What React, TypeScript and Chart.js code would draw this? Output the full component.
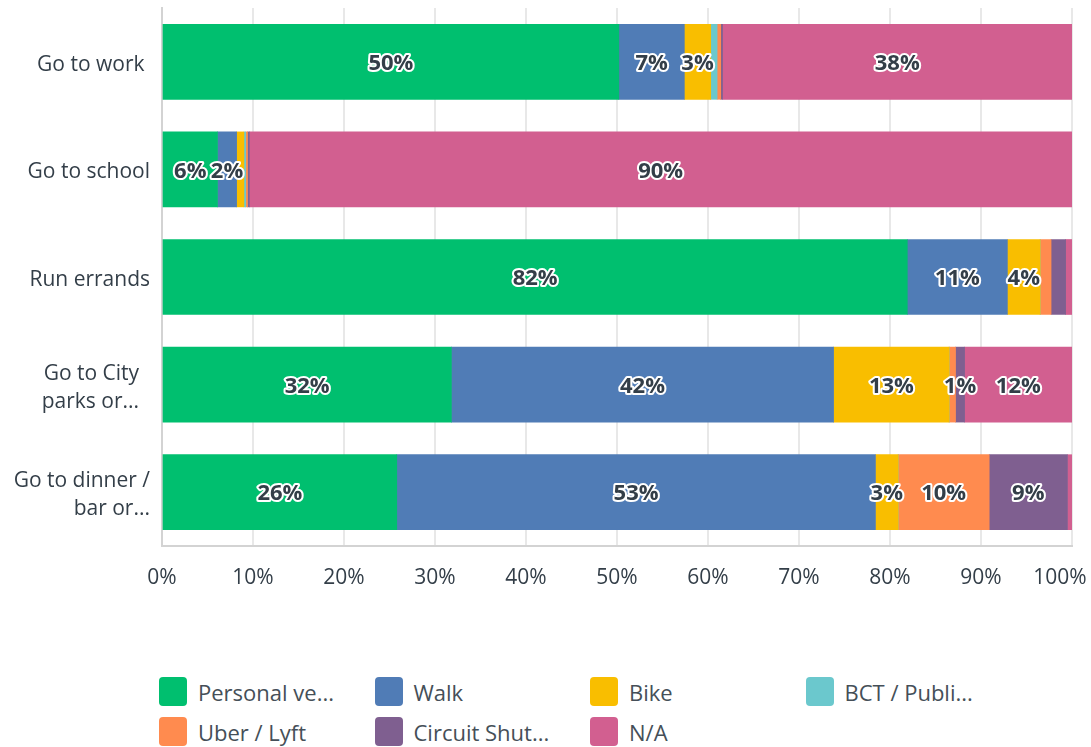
import React, { useEffect, useRef } from "react";
import { Chart, registerables } from "chart.js";

Chart.register(...registerables);

const categories: string[][] = [
  ["Go to work "],
  ["Go to school"],
  ["Run errands"],
  ["Go to City  ", "parks or...  "],
  ["Go to dinner /", "bar or..."],
];

const seriesNames = ["Personal ve...", "Walk", "Bike", "BCT / Publi...", "Uber / Lyft", "Circuit Shut...", "N/A"];
const personal = [50.2, 6.1, 81.9, 31.8, 25.8];
const walk = [7.2, 2.1, 11.0, 42.0, 52.6];
const bike = [2.9, 0.8, 3.6, 12.7, 2.5];
const bct = [0.7, 0.2, 0, 0, 0];
const uber = [0.4, 0.2, 1.2, 0.7, 10.0];
const circuit = [0.2, 0.2, 1.6, 1.0, 8.6];
const na = [38.4, 90.4, 0.7, 11.8, 0.5];
const xTicks = [0, 10, 20, 30, 40, 50, 60, 70, 80, 90, 100];

// small segments that still carry a label in the reference: [row, series]
const extraLabels: number[][] = [[3, 5]];

const colors = ["#00BF6F", "#507CB6", "#F9BE00", "#6BC8CD", "#FF8B4F", "#7F5F90", "#D25F90"];
const seriesValues = [personal, walk, bike, bct, uber, circuit, na];

const FONT = "'Open Sans', 'DejaVu Sans', sans-serif";
const TEXT = "#333E48";

const labelPlugin = {
  id: "segLabels",
  afterDatasetsDraw(chart: any) {
    const ctx = chart.ctx;
    ctx.save();
    ctx.font = `bold 22px ${FONT}`;
    ctx.textAlign = "center";
    ctx.textBaseline = "middle";
    ctx.lineJoin = "round";
    chart.data.datasets.forEach((ds: any, di: number) => {
      const meta = chart.getDatasetMeta(di);
      meta.data.forEach((el: any, i: number) => {
        const v = ds.data[i] as number;
        const forced = extraLabels.some((p) => p[0] === i && p[1] === di);
        if (!(v >= 2 || forced)) return;
        const x = (el.x + el.base) / 2;
        const y = el.y + 2;
        const t = Math.round(v) + "%";
        ctx.lineWidth = 4;
        ctx.strokeStyle = "#ffffff";
        ctx.strokeText(t, x, y);
        ctx.fillStyle = TEXT;
        ctx.fillText(t, x, y);
      });
    });
    ctx.restore();
  },
};

export default function App() {
  const ref = useRef<HTMLCanvasElement>(null);
  useEffect(() => {
    if (!ref.current) return;
    const chart = new Chart(ref.current, {
      type: "bar",
      data: {
        labels: categories,
        datasets: seriesNames.map((n, i) => ({
          label: n,
          data: seriesValues[i],
          backgroundColor: colors[i],
          borderWidth: 0,
          barThickness: 75,
        })),
      },
      options: {
        indexAxis: "y",
        animation: false,
        responsive: false,
        maintainAspectRatio: false,
        layout: { padding: { left: 0, right: 19, top: 8, bottom: 0 } },
        plugins: { legend: { display: false }, tooltip: { enabled: false } },
        scales: {
          x: {
            stacked: true,
            min: 0,
            max: 100,
            afterBuildTicks: (s: any) => {
              s.ticks = xTicks.map((v) => ({ value: v }));
            },
            afterFit: (s: any) => {
              s.height = 64;
              s.paddingLeft = 0;
              s.paddingRight = 0;
            },
            ticks: {
              callback: (v: any) => (v === 100 ? v + "%\u2007\u2007" : v + "%"),
              font: { family: FONT, size: 21 },
              color: TEXT,
              padding: 19,
              maxRotation: 0,
            },
            grid: { color: "#E8E8E8", lineWidth: 2, drawTicks: false },
            border: { color: "#D3D3D3", width: 2 },
          },
          y: {
            stacked: true,
            afterFit: (s: any) => {
              s.width = 162;
              s.paddingTop = 0;
              s.paddingBottom = 0;
            },
            ticks: {
              font: { family: FONT, size: 21, lineHeight: 1.33 },
              color: TEXT,
              padding: 12,
              labelOffset: 3,
            },
            grid: { display: false, drawTicks: false },
            border: { color: "#D3D3D3", width: 2 },
          },
        },
      } as any,
      plugins: [labelPlugin],
    });
    return () => chart.destroy();
  }, []);

  return (
    <div style={{ position: "fixed", left: 0, top: 0, width: 1091, height: 747, background: "#fff" }}>
      <canvas ref={ref} width={1091} height={610} style={{ position: "absolute", left: 0, top: 0, width: 1091, height: 610 }} />
      <div style={{ position: "absolute", left: 159, top: 677, width: 900 }}>
        {seriesNames.map((n, i) => (
          <div
            key={n}
            style={{
              position: "absolute",
              left: (i % 4) * 215.5,
              top: Math.floor(i / 4) * 40,
              display: "flex",
              alignItems: "center",
              height: 29,
              whiteSpace: "nowrap",
            }}
          >
            <span style={{ width: 28, height: 29, borderRadius: 4, background: colors[i], display: "inline-block", marginRight: 11 }} />
            <span style={{ fontFamily: FONT, fontSize: 22, color: "#454F58" }}>{n}</span>
          </div>
        ))}
      </div>
    </div>
  );
}
